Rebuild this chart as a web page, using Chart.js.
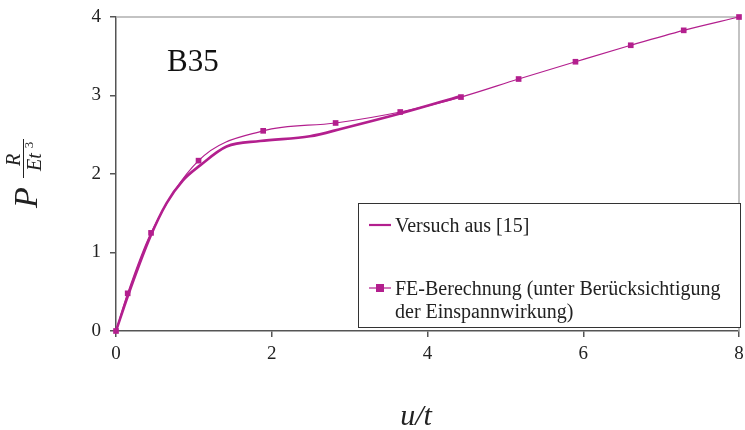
<!DOCTYPE html>
<html><head><meta charset="utf-8">
<script src="https://cdn.jsdelivr.net/npm/chart.js@4"></script>
<style>html,body{margin:0;padding:0;background:#fff}#wrap{width:745px;height:430px;position:relative}</style>
</head><body><div id="wrap"><canvas id="c" width="745" height="430"></canvas></div>
<script>
const versuchX = [0, 0.15, 0.44, 0.65, 0.86, 1.08, 1.42, 1.85, 2.49, 2.91, 3.65, 4.42];
const versuchY = [0, 0.44, 1.20, 1.63, 1.92, 2.11, 2.35, 2.42, 2.48, 2.58, 2.77, 2.99];
const feX = [0, 0.15, 0.45, 1.06, 1.89, 2.82, 3.65, 4.43, 5.17, 5.90, 6.61, 7.29, 8.0];
const feY = [0, 0.48, 1.25, 2.17, 2.55, 2.65, 2.79, 2.98, 3.21, 3.43, 3.64, 3.83, 4.0];
const xTicks = [0, 2, 4, 6, 8];
const yTicks = [0, 1, 2, 3, 4];
const seriesNames = ['Versuch aus [15]', 'FE-Berechnung (unter Berücksichtigung', 'der Einspannwirkung)'];
const panelLabel = 'B35';

const MAG = '#B31F8E';
const SERIF = '"Liberation Serif", "DejaVu Serif", serif';

const overlay = {
  id: 'overlay',
  beforeDatasetsDraw(chart) {
    const {ctx, chartArea: a} = chart;
    ctx.save();
    ctx.strokeStyle = '#b0b0b0';
    ctx.lineWidth = 1.5;
    ctx.beginPath();
    ctx.moveTo(a.left, a.top); ctx.lineTo(a.right, a.top); ctx.lineTo(a.right, a.bottom);
    ctx.stroke();
    ctx.restore();
  },
  afterDraw(chart) {
    const {ctx} = chart;
    ctx.save();
    // panel label
    ctx.fillStyle = '#111';
    ctx.font = '31px ' + SERIF;
    ctx.textBaseline = 'alphabetic';
    ctx.fillText(panelLabel, 167, 71);
    // legend box
    ctx.fillStyle = '#fff';
    ctx.fillRect(358, 203, 383, 125);
    ctx.strokeStyle = '#333';
    ctx.lineWidth = 1;
    ctx.strokeRect(358.5, 203.5, 382, 124);
    ctx.strokeStyle = MAG;
    ctx.lineWidth = 2.2;
    ctx.beginPath(); ctx.moveTo(369, 225); ctx.lineTo(391, 225); ctx.stroke();
    ctx.lineWidth = 1.2;
    ctx.beginPath(); ctx.moveTo(369, 288); ctx.lineTo(391, 288); ctx.stroke();
    ctx.fillStyle = MAG;
    ctx.fillRect(376, 284, 8, 8);
    ctx.fillStyle = '#222';
    ctx.font = '20px ' + SERIF;
    ctx.fillText(seriesNames[0], 395, 232);
    ctx.fillText(seriesNames[1], 395, 295);
    ctx.fillText(seriesNames[2], 395, 318);
    // x axis title
    ctx.font = 'italic 30px ' + SERIF;
    ctx.textAlign = 'center';
    ctx.fillText('u/t', 416, 425);
    // y axis title (rotated)
    ctx.translate(0, 176);
    ctx.rotate(-Math.PI / 2);
    ctx.textAlign = 'left';
    ctx.font = 'italic 34px ' + SERIF;
    ctx.fillText('P', -32, 37);
    ctx.font = 'italic 20px ' + SERIF;
    ctx.textAlign = 'center';
    ctx.fillText('R', 16, 20);
    ctx.fillText('Et', 14, 41);
    ctx.font = '13px ' + SERIF;
    ctx.fillText('3', 31, 33);
    ctx.strokeStyle = '#222';
    ctx.lineWidth = 1;
    ctx.beginPath(); ctx.moveTo(-2, 23.5); ctx.lineTo(37, 23.5); ctx.stroke();
    ctx.restore();
  }
};

new Chart(document.getElementById('c'), {
  type: 'line',
  data: {
    datasets: [
      {
        label: seriesNames[0],
        data: versuchX.map((x, i) => ({x, y: versuchY[i]})),
        borderColor: MAG, borderWidth: 2.6, pointRadius: 0,
        cubicInterpolationMode: 'monotone', fill: false, clip: false
      },
      {
        label: seriesNames[1] + ' ' + seriesNames[2],
        data: feX.map((x, i) => ({x, y: feY[i]})),
        borderColor: MAG, borderWidth: 1.2,
        pointStyle: 'rect', pointRadius: 4, pointBackgroundColor: MAG, pointBorderColor: MAG, pointBorderWidth: 0,
        cubicInterpolationMode: 'monotone', fill: false, clip: false
      }
    ]
  },
  options: {
    responsive: false, animation: false, devicePixelRatio: 1,
    layout: {padding: {top: 17, right: 6, left: 0, bottom: 0}},
    plugins: {legend: {display: false}, tooltip: {enabled: false}},
    scales: {
      x: {
        type: 'linear', min: 0, max: 8,
        afterFit(s) { s.height = 99; s.paddingRight = 0; s.paddingLeft = 0; },
        afterBuildTicks(s) { s.ticks = xTicks.map(v => ({value: v})); },
        ticks: {color: '#222', font: {family: SERIF, size: 19}, padding: 6, maxRotation: 0},
        grid: {drawOnChartArea: false, drawTicks: true, tickLength: 6, color: '#555', lineWidth: 1.5},
        border: {color: '#555', width: 1.5}
      },
      y: {
        type: 'linear', min: 0, max: 4,
        afterFit(s) { s.width = 116; s.paddingTop = 0; s.paddingBottom = 0; },
        afterBuildTicks(s) { s.ticks = yTicks.map(v => ({value: v})); },
        ticks: {color: '#222', font: {family: SERIF, size: 19}, padding: 9},
        grid: {drawOnChartArea: false, drawTicks: true, tickLength: 6, color: '#555', lineWidth: 1.5},
        border: {color: '#555', width: 1.5}
      }
    }
  },
  plugins: [overlay]
});
</script></body></html>
